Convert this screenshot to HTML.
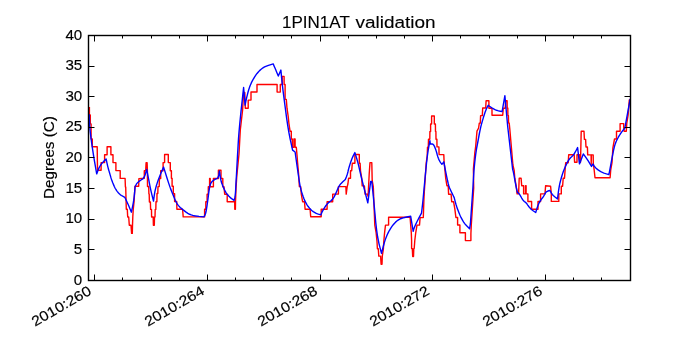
<!DOCTYPE html><html><head><meta charset="utf-8"><style>html,body{margin:0;padding:0;background:#fff;overflow:hidden}svg{display:block}</style></head><body>
<svg width="700" height="350" viewBox="0 0 700 350" style="will-change:transform;font-family:'Liberation Sans',sans-serif">
<rect width="700" height="350" fill="#fff"/>
<style>text{stroke:#000;stroke-width:0.15px}.ti text{stroke-width:0.12px}</style>
<defs><clipPath id="c"><rect x="88" y="35" width="543" height="246"/></clipPath></defs>
<g clip-path="url(#c)" fill="none" stroke-width="1.4" stroke-linejoin="round" stroke-linecap="butt">
<polyline stroke="#ff0000" points="89.4,107.1 89.4,115 90.3,115 90.3,123.9 91.1,123.9 91.1,139 92.3,139 92.3,146.7 97.2,146.7 97.5,170.2 101.1,170.2 101.1,162.6 104.6,162.6 104.6,154.8 107.1,154.8 107.1,146.7 110.9,146.7 110.9,154.8 113,154.8 113,162.6 115.9,162.6 115.9,170.6 120.2,170.6 120.2,178.4 125.1,178.4 125.4,186.9 125.7,186.9 126.3,209.3 127.3,209.3 127.7,217 128.7,217 129.3,225.2 131,225.2 131.6,233.4 132.3,233.4 132.5,225.2 132.8,217 133.2,210 134,202.3 135,186.3 138.7,186.3 138.9,178.6 144.3,178.3 144.3,170.7 145.7,170.7 146.1,162.6 147.1,162.6 147.4,170.7 147.5,186.5 148.7,186.5 148.9,194 149.2,194 149.4,202 150.4,202 150.6,209.4 151.5,209.4 151.6,217 153.2,217 153.4,225.2 154.3,225.2 154.5,217 155,217 155.2,209.4 155.8,209.4 156,201.7 156.9,201.7 157,193.5 157.8,193.5 158,186.6 159.2,186.6 159.4,178.6 160.7,178.6 160.7,170.7 163.1,170.7 163.1,162.6 164.6,162.6 164.6,154.5 168.3,154.5 168.3,162.6 170.3,162.6 170.3,170.7 171.4,170.7 171.4,178.3 172.1,178.3 172.1,186.2 173.3,186.2 173.3,193.7 174.6,193.7 174.6,201.5 176.7,201.5 176.9,209.3 182.6,209.3 183.2,216.9 204.6,216.9 204.6,209.3 205.8,209.3 205.8,201.8 207.1,201.8 207.1,194.2 208.3,194.2 208.3,186.7 209.6,186.7 209.6,178.5 210.2,178.5 210.2,186.7 213.4,186.7 213.4,178.5 218.4,178.5 218.4,170.2 221,170.2 221,178.5 222.8,178.5 222.8,186.7 224,186.7 224.7,194.2 227.2,194.2 227.2,201.8 234.7,201.8 234.8,209.3 235.4,209.3 235.5,201.8 236,188.6 236.8,176 239,154 240.3,130 242.6,110 243.6,92.5 244.8,92.5 245.3,108.3 248.2,108.3 248.2,100.1 251,100.1 251,92 257,92 257,84.5 277.1,84.5 277.1,92.1 280.3,92.1 280.3,84.5 282.2,84.5 282.2,76.4 284.1,76.4 284.1,84.5 285.1,84.5 285.1,99.4 286.3,99.4 287,108.2 288.2,116.4 288.9,123.3 290.1,131.3 291.3,131.2 291.3,139 292.3,139 292.3,147.3 293.9,147.3 293.9,139 295.1,139 295.1,147.3 296.3,147.3 297,155 297.6,162.7 298.6,174 299.4,186.6 300.7,186.6 301.3,194.1 302.6,201.7 304.5,201.7 305.1,209.2 310.1,209.2 310.7,216.7 321.2,216.7 321.2,209.2 327.1,209.2 327.1,201.7 332.7,201.7 332.7,194.1 338.4,194.1 338.4,186.6 345.9,186.6 346.2,194.1 347.2,186.6 347.9,184 348.6,178.3 350.5,178.3 350.5,170.8 351.7,170.8 352.3,163.3 354.9,163.3 354.9,154.5 359.3,154.5 359.3,163.3 360.1,163.3 360.5,170.8 361.8,178.5 362.2,185.9 364.4,185.9 365.1,194.1 367.4,194.1 368.1,196.3 369.2,174 370,162.6 371.8,162.6 372.2,180.7 373.3,186.6 374.2,210 374.8,225.1 376.1,232.6 377,241.5 377.4,248.8 378.3,248.8 378.8,256.1 380.6,256.1 381.1,264.3 382,264.3 382.3,256.1 383.4,248.8 383.8,241.5 384.6,232.6 385.5,225.1 388.6,225.1 388.6,217.3 410.1,217.3 410.7,225.1 411.3,232.7 411.6,240.5 411.6,248.5 412.3,248.5 412.7,256.5 413.5,256.5 413.8,248.5 414.2,248.5 414.8,240.5 415.7,233 417,225.1 419.5,225.1 420.1,217.6 423.3,217.6 423.9,200 424.3,192 426.2,163.1 427.2,156 427.5,147.1 428.3,147.1 428.5,139.2 429.8,139.2 429.9,131.5 430.6,131.5 430.6,124 431.6,124 431.6,116 434.3,116 434.3,124 435.4,124 435.5,131.5 435.9,131.5 436,139.2 436.9,139.2 437,146.9 438.9,146.9 439.1,154.6 443.8,154.6 444.1,161.8 445,170.6 445.7,178.2 446.9,185.7 448.2,185.7 448.6,194.3 451.1,194.3 451.7,201.8 453.6,201.8 454.9,209.4 455.9,217.5 457.6,217.5 457.6,225 459.9,225 459.9,232.8 465.4,232.8 465.4,240.6 470.9,240.6 470.9,233.7 471.3,224.6 473.7,188 473.4,169 474.9,152 475.6,147.2 476.3,139 477,131.1 478.6,128 479.3,123.1 480.3,123.1 480.6,115.6 482.3,115.6 482.7,108 485.7,108 486.1,100.7 488.9,100.7 488.9,108.3 492,108.3 492,115.2 502.7,115.2 503.3,108.3 505.2,108.3 505.6,100.7 507.1,100.7 507.2,108 507.8,108 507.9,115.5 508.4,115.5 508.6,123 509.2,123 509.8,129 512.9,165 514.2,170.7 514.8,178.2 516.1,185.7 517.1,193.9 518.6,193.9 519.2,178.2 521.1,178.2 521.7,185.7 523.6,185.7 523.6,193.9 525.5,193.9 525.5,185.7 526.1,185.7 526.1,193.9 527.9,193.9 527.9,201.5 531.6,201.5 531.6,209.3 538,209.3 538,201.5 540.6,201.5 540.6,193.9 545,193.9 545.6,185.7 550.6,186.3 551.3,193.9 551.3,201.4 558.8,201.4 558.8,193.9 561.3,193.9 561.3,186.3 562.6,186.3 563.2,178.2 564.5,178.2 565.1,170 565.7,162.7 568.2,162.7 568.7,154.7 574.2,154.7 574.6,162.3 577,162.3 577,154.7 579.5,154.7 579.5,162.3 580.5,162.3 581.2,131.3 584,131.3 584.4,139.4 585.6,139.4 586,147 587.4,147 587.7,154.9 591.1,154.9 591.2,164.5 591.4,154.9 593.2,154.9 593.3,163.5 594.2,170.2 595,177.7 610.1,177.7 610.7,170.2 612,162.6 612.9,147.8 614.5,139 616.5,139 616.5,131.3 620.1,131.3 620.1,123.6 623.7,123.6 623.7,127.7 624.2,131.3 626.3,131.3 626.8,123.1 628.1,115.1 629.3,100.1 629.7,99.4"/>
<polyline stroke="#0000ff" points="89.30,114.30 89.47,122.01 89.75,126.93 90.20,131.64 90.84,137.00 91.66,143.00 92.52,148.87 93.41,154.61 94.56,161.58 96.70,173.90 97.77,170.92 98.39,169.33 98.93,168.14 99.50,167.03 100.10,165.97 100.71,165.01 101.32,164.12 101.94,163.31 102.56,162.59 103.19,161.88 103.83,161.19 104.64,160.36 106.10,158.90 107.06,163.40 107.61,165.83 108.07,167.68 108.55,169.45 109.05,171.15 109.53,172.79 109.99,174.38 110.44,175.91 110.86,177.39 111.29,178.78 111.73,180.09 112.18,181.32 112.62,182.47 113.07,183.57 113.51,184.62 113.94,185.62 114.36,186.58 114.81,187.49 115.27,188.36 115.75,189.20 116.25,190.00 116.81,190.81 117.42,191.62 118.09,192.44 118.81,193.26 119.52,193.98 120.21,194.59 120.88,195.10 121.52,195.50 122.16,195.87 122.77,196.22 123.51,196.62 124.80,197.30 126.66,201.24 127.69,203.48 128.51,205.34 129.54,207.76 131.40,212.20 132.47,207.03 133.01,204.29 133.37,202.26 133.68,200.38 133.93,198.62 134.16,196.72 134.39,194.66 134.65,191.84 135.10,186.50 136.22,184.48 136.94,183.41 137.61,182.64 138.38,181.93 139.23,181.28 140.10,180.64 141.00,180.01 141.93,179.40 142.88,178.80 143.74,177.81 144.51,176.44 145.35,174.14 146.70,169.30 148.95,180.94 150.12,186.81 150.97,190.79 151.92,194.86 153.50,201.10 154.34,194.86 154.94,191.37 155.58,188.56 156.35,185.73 157.25,182.87 158.24,180.02 159.31,177.16 160.79,173.57 163.60,167.10 166.92,177.73 168.57,182.89 169.66,186.13 170.55,188.62 171.25,190.38 171.89,191.99 172.48,193.46 173.01,194.80 173.49,196.00 173.99,197.23 174.51,198.48 175.06,199.75 175.64,201.05 176.21,202.21 176.79,203.24 177.36,204.12 177.94,204.88 178.53,205.59 179.13,206.28 179.74,206.94 180.36,207.56 181.31,208.39 182.57,209.43 184.15,210.67 186.05,212.12 187.86,213.32 189.59,214.26 191.22,214.94 192.78,215.36 194.49,215.74 196.36,216.06 198.95,216.39 203.90,216.90 204.97,215.10 205.56,213.51 206.04,211.54 206.51,208.97 206.99,205.82 207.46,202.52 207.94,199.06 208.41,195.44 208.89,191.66 209.36,188.56 209.84,186.14 210.31,184.39 210.79,183.31 211.38,182.34 212.09,181.48 212.92,180.72 213.88,180.07 214.78,179.51 215.64,179.04 216.46,178.65 217.24,178.35 217.88,177.69 218.39,176.68 218.84,174.88 219.40,171.00 220.24,176.62 220.74,179.44 221.16,181.31 221.61,182.88 222.09,184.12 222.60,185.42 223.15,186.76 223.74,188.14 224.36,189.56 225.07,190.94 225.86,192.28 226.73,193.57 227.67,194.82 228.70,196.00 229.80,197.10 231.29,198.36 234.10,200.50 234.83,197.41 235.19,195.24 235.43,192.96 235.63,190.24 235.77,187.06 235.91,184.29 236.04,181.91 236.17,179.54 236.40,176.00 237.07,163.62 237.46,156.62 237.79,150.88 238.12,145.00 238.48,139.00 239.03,131.84 239.78,123.53 241.01,111.41 243.60,87.50 245.10,105.10 245.78,101.67 246.24,99.49 246.71,97.43 247.28,95.10 247.93,92.50 248.64,90.01 249.43,87.62 250.29,85.34 251.21,83.16 252.22,81.06 253.32,79.02 254.51,77.05 255.79,75.15 257.06,73.44 258.32,71.93 259.57,70.61 260.82,69.49 262.07,68.51 263.32,67.67 264.57,66.97 265.82,66.42 267.11,65.91 268.42,65.42 270.11,64.86 273.20,63.90 274.38,66.66 275.09,68.33 275.73,69.84 276.61,71.95 278.30,76.00 280.90,70.10 281.63,77.86 282.07,82.26 282.47,85.87 282.91,89.56 283.39,93.34 284.00,98.11 284.75,103.87 285.64,110.62 286.66,118.38 287.71,125.44 288.77,131.83 290.12,138.79 292.60,150.10 295.10,152.00 296.84,164.38 297.74,170.66 298.36,174.99 298.91,178.73 299.39,181.87 299.90,184.79 300.45,187.46 301.04,189.90 301.66,192.10 302.36,194.30 303.14,196.50 303.99,198.70 304.91,200.90 305.93,202.94 307.03,204.83 308.21,206.56 309.49,208.14 310.76,209.51 312.02,210.69 313.27,211.66 314.52,212.44 315.74,213.10 316.91,213.65 318.32,214.17 320.80,214.90 321.87,212.42 322.66,210.85 323.52,209.35 324.57,207.65 325.82,205.75 327.12,204.09 328.46,202.66 329.84,201.47 331.26,200.53 332.64,199.07 333.98,197.11 335.27,194.64 336.52,191.66 337.59,189.23 338.46,187.34 339.15,186.00 339.65,185.20 340.33,184.33 341.19,183.38 342.54,182.08 345.30,179.60 346.43,176.73 347.03,175.03 347.48,173.54 347.90,171.95 348.30,170.25 348.77,168.42 349.32,166.47 349.95,164.40 350.65,162.20 351.38,160.16 352.12,158.27 353.10,156.14 354.90,152.60 356.64,158.22 357.61,161.59 358.39,164.58 359.16,167.81 359.94,171.29 360.64,174.36 361.26,177.04 361.81,179.31 362.29,181.19 362.94,183.77 363.78,187.06 365.10,192.22 367.80,202.80 370.70,181.40 371.80,181.40 372.87,191.86 373.55,198.76 374.20,205.59 374.94,213.50 375.76,222.50 376.66,230.34 377.64,237.01 378.97,243.61 381.50,253.40 383.41,245.97 384.49,242.12 385.38,239.37 386.29,236.90 387.21,234.70 388.23,232.58 389.33,230.53 390.51,228.55 391.79,226.65 393.06,224.95 394.32,223.45 395.57,222.15 396.82,221.05 398.07,220.11 399.32,219.34 400.57,218.72 401.82,218.28 403.20,217.86 404.70,217.47 406.76,217.03 410.70,216.30 413.20,231.40 413.65,229.66 413.97,228.61 414.31,227.67 414.71,226.65 415.19,225.55 415.70,224.41 416.25,223.24 416.84,222.03 417.46,220.78 418.12,219.48 418.82,218.14 419.76,216.41 421.50,213.20 421.89,209.99 422.12,208.10 422.31,206.45 422.55,204.22 423.00,200.00 425.31,175.25 426.51,163.29 427.37,155.86 428.33,149.26 429.90,140.60 430.30,144.00 431.99,143.83 432.91,144.15 433.62,144.90 434.31,146.06 434.99,147.64 435.62,149.32 436.22,151.11 436.79,153.00 437.31,155.00 437.84,156.77 438.38,158.31 438.93,159.61 439.48,160.69 439.99,161.62 440.46,162.41 441.00,163.18 441.90,164.30 443.80,161.80 444.87,167.48 445.52,170.87 446.12,173.86 446.79,177.08 447.51,180.52 448.19,183.41 448.81,185.74 449.39,187.50 449.91,188.70 450.41,189.81 450.87,190.82 451.30,191.74 451.70,192.56 452.12,193.42 452.56,194.31 453.13,195.46 454.20,197.60 455.27,201.82 455.94,204.24 456.58,206.28 457.30,208.40 458.10,210.60 458.86,212.57 459.57,214.31 460.24,215.81 460.86,217.09 461.52,218.36 462.21,219.62 462.93,220.88 463.68,222.12 464.54,223.36 465.51,224.59 466.90,226.10 469.60,228.80 470.40,223.70 472.90,188.00 473.52,177.31 473.91,171.50 474.29,167.00 474.71,162.62 475.19,158.38 475.69,154.44 476.21,150.81 476.76,147.50 477.34,144.50 477.91,141.50 478.47,138.50 479.02,135.50 479.57,132.50 480.18,129.56 480.84,126.69 481.56,123.88 482.34,121.12 483.08,118.59 483.77,116.28 484.44,114.19 485.06,112.31 485.67,110.64 486.26,109.18 486.96,107.66 488.20,105.30 489.49,106.26 490.23,106.78 490.82,107.19 491.44,107.60 492.06,108.00 492.78,108.42 493.59,108.87 494.50,109.35 495.50,109.85 496.57,110.29 497.71,110.66 499.23,111.04 502.10,111.60 504.90,95.70 507.70,126.50 512.60,169.00 513.27,171.70 513.69,173.61 514.08,175.62 514.51,178.04 514.99,180.86 515.46,183.45 515.92,185.80 516.49,188.38 517.50,192.60 518.34,192.94 518.99,193.57 519.71,194.61 520.61,196.09 521.69,198.01 522.67,199.56 523.56,200.74 524.35,201.54 525.05,201.96 525.72,202.50 526.36,203.15 526.96,203.91 527.54,204.79 528.14,205.64 528.76,206.48 529.41,207.30 530.09,208.10 530.88,208.90 531.79,209.70 533.11,210.70 535.70,212.50 536.99,208.34 537.71,206.21 538.29,204.72 538.86,203.41 539.44,202.29 540.09,201.16 540.83,200.02 541.65,198.87 542.55,197.73 543.37,196.58 544.11,195.42 544.76,194.27 545.34,193.13 546.01,192.21 546.77,191.52 547.86,191.01 550.00,190.50 551.41,193.09 552.34,194.47 553.28,195.52 554.69,196.76 557.50,198.90 558.40,191.87 558.92,188.28 559.36,185.78 559.81,183.59 560.29,181.71 560.76,179.91 561.24,178.19 561.71,176.54 562.19,174.96 562.70,173.39 563.25,171.81 563.84,170.24 564.46,168.66 565.15,167.04 565.90,165.38 566.71,163.68 567.59,161.93 568.52,160.36 569.51,158.99 570.55,157.80 571.65,156.80 572.61,155.83 573.42,154.89 574.09,153.99 574.61,153.11 575.14,152.19 575.68,151.23 576.36,149.96 577.60,147.60 579.50,163.90 583.30,153.90 585.83,157.44 587.19,159.41 588.21,160.99 589.42,162.96 591.50,166.50 592.90,164.00 594.25,166.08 595.16,167.24 596.09,168.18 597.17,169.12 598.42,170.07 599.62,170.90 600.77,171.60 601.88,172.17 602.92,172.62 603.99,173.04 605.06,173.43 606.43,173.87 608.90,174.60 609.91,169.26 610.48,166.26 610.94,163.82 611.41,161.35 611.89,158.85 612.36,156.39 612.84,153.96 613.31,151.57 613.79,149.22 614.30,147.07 614.85,145.12 615.44,143.38 616.06,141.82 616.76,140.28 617.52,138.74 618.35,137.21 619.25,135.69 620.15,134.25 621.05,132.90 621.95,131.64 622.85,130.46 623.56,129.56 624.09,128.94 624.46,128.57 624.80,128.40 630.20,98.80"/>
</g>
<path d="M88.5 249.50h6M630.5 249.50h-6M88.5 219.50h6M630.5 219.50h-6M88.5 188.50h6M630.5 188.50h-6M88.5 157.50h6M630.5 157.50h-6M88.5 127.50h6M630.5 127.50h-6M88.5 96.50h6M630.5 96.50h-6M88.5 66.50h6M630.5 66.50h-6M94.50 280.5v-6M94.50 35.5v6M122.50 280.5v-3M122.50 35.5v3M151.50 280.5v-3M151.50 35.5v3M179.50 280.5v-3M179.50 35.5v3M207.50 280.5v-6M207.50 35.5v6M235.50 280.5v-3M235.50 35.5v3M263.50 280.5v-3M263.50 35.5v3M291.50 280.5v-3M291.50 35.5v3M320.50 280.5v-6M320.50 35.5v6M348.50 280.5v-3M348.50 35.5v3M376.50 280.5v-3M376.50 35.5v3M404.50 280.5v-3M404.50 35.5v3M432.50 280.5v-6M432.50 35.5v6M460.50 280.5v-3M460.50 35.5v3M489.50 280.5v-3M489.50 35.5v3M517.50 280.5v-3M517.50 35.5v3M545.50 280.5v-6M545.50 35.5v6M573.50 280.5v-3M573.50 35.5v3M601.50 280.5v-3M601.50 35.5v3" stroke="#000" stroke-width="1" fill="none"/>
<rect x="88.5" y="35.5" width="542.0" height="245.0" fill="none" stroke="#000" stroke-width="1.4"/>
<g transform="translate(82.2,284.60) scale(1.08,1)"><text text-anchor="end" font-size="14">0</text></g>
<g transform="translate(82.2,253.97) scale(1.08,1)"><text text-anchor="end" font-size="14">5</text></g>
<g transform="translate(82.2,223.35) scale(1.08,1)"><text text-anchor="end" font-size="14">10</text></g>
<g transform="translate(82.2,192.72) scale(1.08,1)"><text text-anchor="end" font-size="14">15</text></g>
<g transform="translate(82.2,162.10) scale(1.08,1)"><text text-anchor="end" font-size="14">20</text></g>
<g transform="translate(82.2,131.47) scale(1.08,1)"><text text-anchor="end" font-size="14">25</text></g>
<g transform="translate(82.2,100.85) scale(1.08,1)"><text text-anchor="end" font-size="14">30</text></g>
<g transform="translate(82.2,70.22) scale(1.08,1)"><text text-anchor="end" font-size="14">35</text></g>
<g transform="translate(82.2,39.60) scale(1.08,1)"><text text-anchor="end" font-size="14">40</text></g>
<g transform="translate(92.50,293.5) rotate(-30) scale(1.14,1)"><text text-anchor="end" font-size="14">2010:260</text></g>
<g transform="translate(205.50,293.5) rotate(-30) scale(1.14,1)"><text text-anchor="end" font-size="14">2010:264</text></g>
<g transform="translate(318.50,293.5) rotate(-30) scale(1.14,1)"><text text-anchor="end" font-size="14">2010:268</text></g>
<g transform="translate(430.50,293.5) rotate(-30) scale(1.14,1)"><text text-anchor="end" font-size="14">2010:272</text></g>
<g transform="translate(543.50,293.5) rotate(-30) scale(1.14,1)"><text text-anchor="end" font-size="14">2010:276</text></g>
<g transform="translate(53.5,157.6) rotate(-90) scale(1.087,1)"><text text-anchor="middle" font-size="14">Degrees (C)</text></g>
<g class="ti" transform="translate(282,28) scale(0.99,1)"><text font-size="17.2">1PIN1AT</text></g><g class="ti" transform="translate(355.4,28) scale(1.104,1)"><text font-size="17.2">validation</text></g>
</svg></body></html>
